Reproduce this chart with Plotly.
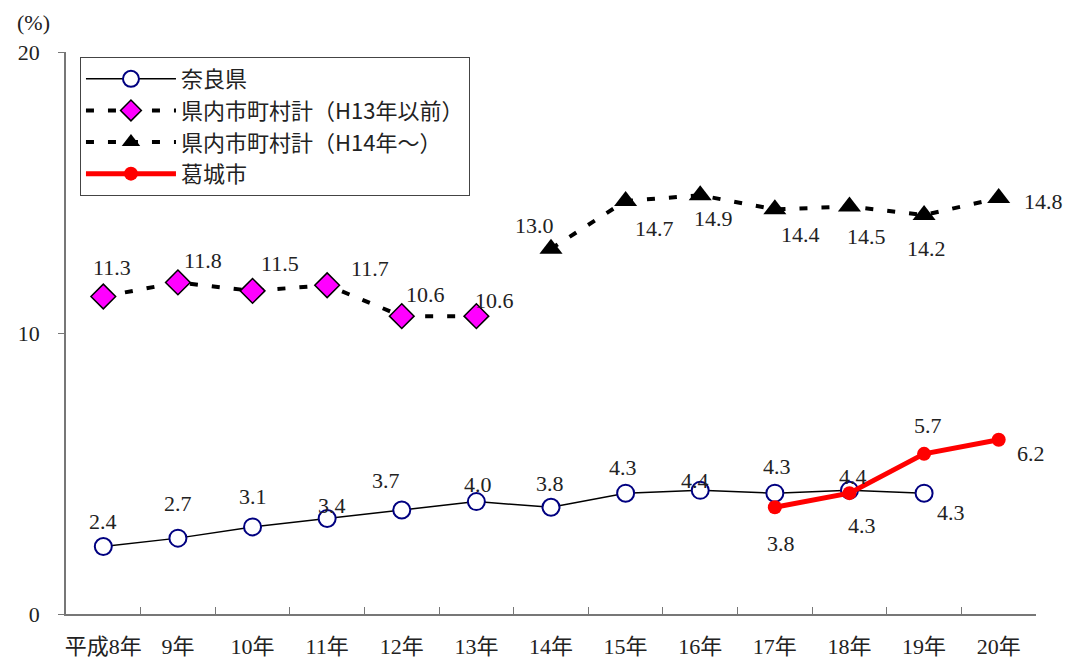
import plotly.graph_objects as go

categories = ["平成8年", "9年", "10年", "11年", "12年", "13年", "14年",
              "15年", "16年", "17年", "18年", "19年", "20年"]

nara_vals = [2.4, 2.7, 3.1, 3.4, 3.7, 4.0, 3.8, 4.3, 4.4, 4.3, 4.4, 4.3, None]
pre_h13_vals = [11.3, 11.8, 11.5, 11.7, 10.6, 10.6, None, None, None, None, None, None, None]
post_h14_vals = [None, None, None, None, None, None, 13.0, 14.7, 14.9, 14.4, 14.5, 14.2, 14.8]
katsuragi_vals = [None, None, None, None, None, None, None, None, None, 3.8, 4.3, 5.7, 6.2]

series_names = ["奈良県", "県内市町村計（H13年以前）", "県内市町村計（H14年～）", "葛城市"]

# label offsets in pixels (dx, dy) -- styling only
nara_off = [(0, 25), (0, 35), (0, 30), (5, 13), (-16, 30), (2, 17), (-1, 24),
            (-3, 26), (-5, 10), (2, 27), (4, 14), (27, -19), (0, 0)]
pre_off = [(9, 29), (25, 22), (27, 27), (43, 17), (24, 22), (18, 16)] + [(0, 0)] * 7
post_off = [(0, 0)] * 6 + [(-17, 23), (29, -28), (13, -23), (26, -25), (17, -30), (2, -34), (45, -3)]
kat_off = [(0, 0)] * 9 + [(6, -36), (13, -32), (4, 28), (32, -14)]

SERIF = "Liberation Serif, Noto Sans CJK JP, serif"
LEG = "Noto Sans CJK JP, Liberation Serif, serif"
TXT = "#222222"
AX = "#777777"

fig = go.Figure()
fig.add_trace(go.Scatter(
    x=categories, y=nara_vals, name=series_names[0], mode="lines+markers",
    line=dict(color="black", width=1.5),
    marker=dict(symbol="circle", size=17, color="white", line=dict(color="#000080", width=2)),
))
fig.add_trace(go.Scatter(
    x=categories, y=pre_h13_vals, name=series_names[1], mode="lines+markers",
    line=dict(color="black", width=4, dash="8px,14px"),
    marker=dict(symbol="diamond", size=19, color="#FF00FF", line=dict(color="black", width=1.5)),
))
fig.add_trace(go.Scatter(
    x=categories, y=post_h14_vals, name=series_names[2], mode="lines+markers",
    line=dict(color="black", width=4, dash="8px,14px"),
    marker=dict(symbol="triangle-up", size=20, color="black"),
))
fig.add_trace(go.Scatter(
    x=categories, y=katsuragi_vals, name=series_names[3], mode="lines+markers",
    line=dict(color="#FF0000", width=5),
    marker=dict(symbol="circle", size=14, color="#FF0000"),
))

annotations = []
for vals, offs in [(nara_vals, nara_off), (pre_h13_vals, pre_off),
                   (post_h14_vals, post_off), (katsuragi_vals, kat_off)]:
    for c, v, (dx, dy) in zip(categories, vals, offs):
        if v is None:
            continue
        annotations.append(dict(
            x=c, y=v, xref="x", yref="y", text=f"{v:.1f}", showarrow=False,
            xshift=dx, yshift=dy, font=dict(family=SERIF, size=22, color=TXT),
        ))

annotations.append(dict(
    x=-0.033, y=1.053, xref="paper", yref="paper", text="(%)", showarrow=False,
    xanchor="center", yanchor="middle",
    font=dict(family=SERIF, size=22, color=TXT),
))

# the page body adds an 8px margin, so the figure is sized to fit inside it
fig.update_layout(
    width=1064, height=653,
    margin=dict(l=58, r=36, t=44, b=47),
    paper_bgcolor="white", plot_bgcolor="white",
    showlegend=True,
    legend=dict(
        x=0.0144, y=0.991, xanchor="left", yanchor="top",
        bordercolor="#444444", borderwidth=1, bgcolor="white",
        font=dict(family=LEG, size=22, color=TXT),
        tracegroupgap=0, itemwidth=90,
    ),
    annotations=annotations,
    xaxis=dict(
        type="category", range=[-0.5, 12.5], automargin=False,
        showline=True, linecolor=AX, linewidth=1.5,
        ticks="inside", tickson="boundaries", ticklen=7, tickcolor=AX,
        showgrid=False, zeroline=False, tickangle=0,
        tickfont=dict(family=SERIF, size=22, color=TXT),
        ticklabelstandoff=12,
    ),
    yaxis=dict(
        range=[0, 20], tickvals=[0, 10, 20], automargin=False,
        showline=True, linecolor=AX, linewidth=1.5,
        ticks="outside", ticklen=6, tickcolor=AX,
        showgrid=False, zeroline=False,
        tickfont=dict(family=SERIF, size=22, color=TXT),
        ticklabelstandoff=14,
    ),
)

fig.write_html("out.html")
